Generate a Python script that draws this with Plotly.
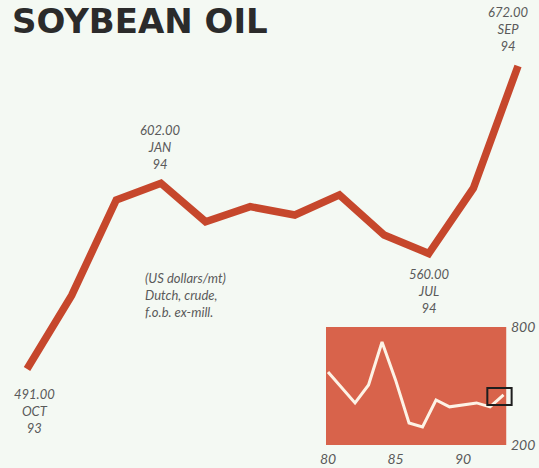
import plotly.graph_objects as go

# Monthly prices, Oct 1993 - Sep 1994 (US dollars/mt)
months = ["OCT", "NOV", "DEC", "JAN", "FEB", "MAR", "APR", "MAY", "JUN", "JUL", "AUG", "SEP"]
years = ["93", "93", "93", "94", "94", "94", "94", "94", "94", "94", "94", "94"]
prices = [491.00, 535, 592, 602.00, 579, 588, 583, 595, 571, 560.00, 599, 672.00]

# Long-run annual prices for the inset
inset_years = [80, 81, 82, 83, 84, 85, 86, 87, 88, 89, 90, 91, 92, 93]
inset_prices = [571, 492, 414, 505, 724, 531, 312, 292, 429, 394, 404, 414, 394, 455]
inset_xticks = [80, 85, 90]
inset_yticks = [200, 800]

# Months that carry a value label, with label placement (xshift, yshift, anchor)
labelled = {0: (7, -15, "top"), 3: (0, 9, "bottom"), 9: (1, -10, "top"), 11: (-10, 10, "bottom")}

BG = "#F4F9F3"
LINE = "#C6472C"
PANEL = "#D8634B"
TEXT = "#5A5A5A"
FONT = "Lato"

x = list(range(len(prices)))

fig = go.Figure()
fig.add_trace(go.Scatter(
    x=x, y=prices, mode="lines",
    line=dict(color=LINE, width=7.5, shape="linear"),
    hoverinfo="skip", xaxis="x", yaxis="y",
))
fig.add_trace(go.Scatter(
    x=inset_years, y=inset_prices, mode="lines",
    line=dict(color="#FDF3E6", width=3),
    hoverinfo="skip", xaxis="x2", yaxis="y2",
))

annotations = []
for i, (dx, dy, anchor) in labelled.items():
    annotations.append(dict(
        x=x[i], y=prices[i], xref="x", yref="y",
        text=f"{prices[i]:.2f}<br>{months[i]}<br>{years[i]}",
        showarrow=False, xshift=dx, yshift=dy, yanchor=anchor, xanchor="center",
        font=dict(family=FONT, size=13, color=TEXT, style="italic"),
    ))

annotations.append(dict(
    x=143 / 539, y=1 - 268 / 468, xref="paper", yref="paper",
    text="(US dollars/mt)<br>Dutch, crude,<br>f.o.b. ex-mill.",
    showarrow=False, xanchor="left", yanchor="top", align="left",
    font=dict(family=FONT, size=13, color=TEXT, style="italic"),
))

annotations.append(dict(
    x=10 / 539, y=1, xref="paper", yref="paper",
    text="<b>SOYBEAN OIL</b>",
    showarrow=False, xanchor="left", yanchor="top", yshift=1,
    font=dict(family="DejaVu Sans", size=34, color="#2B2B2B"),
))

shapes = [
    # inset panel
    dict(type="rect", xref="x2", yref="y2", x0=79.85, x1=93.2, y0=200, y1=800,
         fillcolor=PANEL, line=dict(width=0), layer="below"),
    # period covered by the main chart
    dict(type="rect", xref="x2", yref="y2", x0=91.8, x1=93.6, y0=404, y1=490,
         fillcolor="rgba(0,0,0,0)", line=dict(color="#1E1E1E", width=2)),
]

fig.update_layout(
    width=539, height=468,
    margin=dict(l=0, r=0, t=0, b=0),
    paper_bgcolor=BG, plot_bgcolor="rgba(0,0,0,0)",
    showlegend=False,
    annotations=annotations,
    shapes=shapes,
    xaxis=dict(domain=[0, 1], range=[-0.605, 11.47], visible=False, fixedrange=True),
    yaxis=dict(domain=[0, 1], range=[431.9, 711.4], visible=False, fixedrange=True),
    xaxis2=dict(
        domain=[326 / 539, 515 / 539], range=[79.85, 93.85], anchor="y2",
        showgrid=False, zeroline=False, showline=False, ticks="",
        tickvals=inset_xticks, ticktext=[str(v) for v in inset_xticks],
        tickfont=dict(family=FONT, size=14, color=TEXT, style="italic"),
        ticklabelstandoff=4, automargin=False,
    ),
    yaxis2=dict(
        domain=[1 - 445 / 468, 1 - 327 / 468], range=[200, 800],
        anchor="free", position=510 / 539,
        side="right", showgrid=False, zeroline=False, showline=False, ticks="",
        tickvals=inset_yticks, ticktext=[str(v) for v in inset_yticks],
        tickfont=dict(family=FONT, size=14, color=TEXT, style="italic"),
        ticklabelstandoff=0, automargin=False,
    ),
)

fig.write_html("out.html")
